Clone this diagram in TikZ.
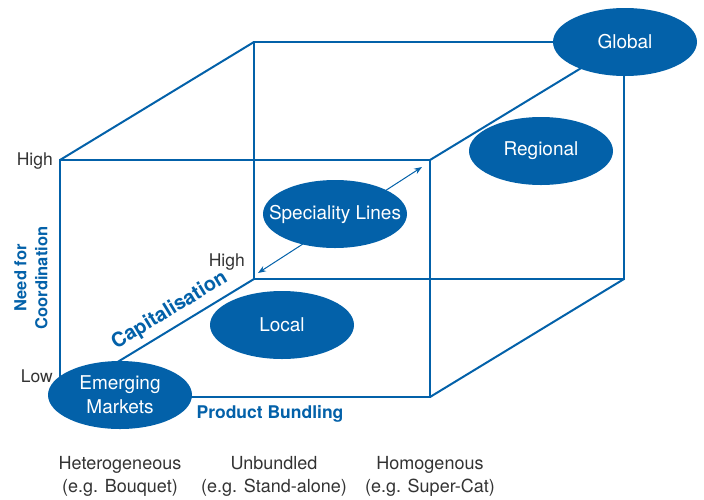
\documentclass[tikz,border=0pt]{standalone}
\usepackage{fontspec}
\setmainfont{TeX Gyre Heros}
\usetikzlibrary{shapes.geometric,arrows.meta}
\definecolor{cblue}{HTML}{0361A9}
\definecolor{cgray}{HTML}{333333}
\tikzset{
  edge/.style={draw=cblue, line width=2pt},
  blob/.style={ellipse, fill=cblue, draw=none, text=white, inner sep=0pt,
    minimum width=144pt, minimum height=68pt, align=center,
    font=\fontsize{19}{22}\selectfont},
  axislab/.style={text=cblue, font=\bfseries\fontsize{17.5}{20}\selectfont, align=center, inner sep=0pt},
  ticklab/.style={text=cgray, font=\fontsize{17.5}{20}\selectfont, inner sep=0pt},
  catlab/.style={text=cgray, font=\fontsize{18}{23}\selectfont, align=center, inner sep=0pt},
  dbl/.style={draw=cblue, line width=1pt, {Stealth[length=8pt,width=6pt]}-{Stealth[length=8pt,width=6pt]}}
}
\newcommand{\zb}[1]{\makebox[0pt]{#1}}
\begin{document}
\begin{tikzpicture}[x=1pt,y=-1pt]
\useasboundingbox (0,0) rectangle (704,499);
% cube corners
\coordinate (fTL) at (60,160);
\coordinate (fTR) at (430,160);
\coordinate (fBL) at (60,397);
\coordinate (fBR) at (430,397);
\coordinate (bTL) at (254,42);
\coordinate (bTR) at (624,42);
\coordinate (bBL) at (254,279);
\coordinate (bBR) at (624,279);
\coordinate (aS) at (258,273);
\coordinate (aE) at (422,167);
% edges
\draw[edge] (fTL) -- (fTR) -- (fBR) -- (fBL) -- cycle;
\draw[edge] (bTL) -- (bTR) -- (bBR) -- (bBL) -- cycle;
\draw[edge] (fTL) -- (bTL);
\draw[edge] (fTR) -- (bTR);
\draw[edge] (fBR) -- (bBR);
\draw[edge] (fBL) -- (bBL) node[pos=0.61, sloped, above=6pt, axislab, font=\bfseries\fontsize{20}{22}\selectfont] (cap) {Capitalisation};
\draw[dbl] (aS) -- (aE);
% ellipses
\node[blob] (glob) at (625,42) {\zb{Global}};
\node[blob] (reg) at (541,151) {\zb{Regional}};
\node[blob] (spec) at (335,214) {\zb{Speciality Lines}};
\node[blob] (loc) at (282,325) {\zb{Local}};
\node[blob, font=\fontsize{19}{24}\selectfont] (emer) at (120,395) {\zb{Emerging}\\\zb{Markets}};
% labels
\node[ticklab, anchor=east] (hi1) at (53,161) {High};
\node[ticklab, anchor=east] (lo1) at (53,376) {Low};
\node[ticklab, anchor=east] (hi2) at (245,262) {High};
\node[axislab, rotate=90, font=\bfseries\fontsize{16.5}{21}\selectfont] (need) at (31,278) {Need for\\Coordination};
\node[axislab] (prod) at (270,414) {Product Bundling};
\node[catlab] (het) at (120,476) {Heterogeneous\\(e.g. Bouquet)};
\node[catlab] (unb) at (274,476) {Unbundled\\(e.g. Stand-alone)};
\node[catlab] (hom) at (430,476) {Homogenous\\(e.g. Super-Cat)};
\end{tikzpicture}
\end{document}
